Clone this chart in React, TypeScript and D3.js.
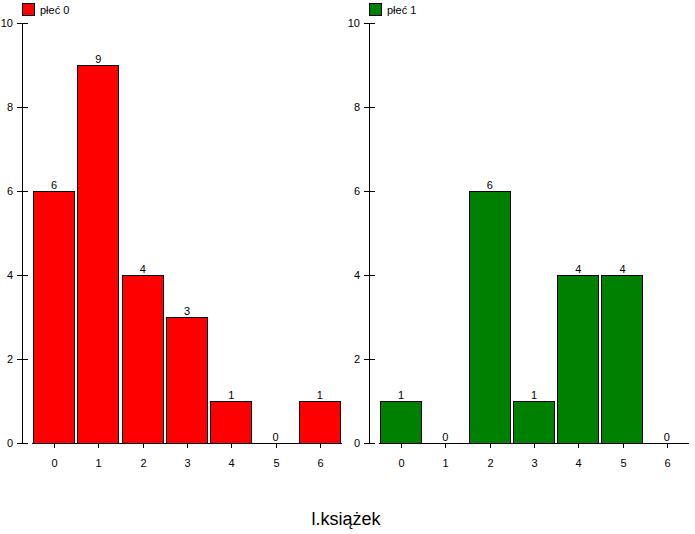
import React from "react";
import * as d3 from "d3";

const categories = ["0", "1", "2", "3", "4", "5", "6"];
const seriesNames = ["płeć 0", "płeć 1"];
const series0 = [6, 9, 4, 3, 1, 0, 1];
const series1 = [1, 0, 6, 1, 4, 4, 0];
const colors = ["#ff0000", "#008000"];
const yTicks = [0, 2, 4, 6, 8, 10];
const xTitle = "l.książek";

const W = 695;
const H = 534;
const font = "'Liberation Sans', Arial, sans-serif";

function Panel({ axisX, x0, x1, values, color, name }: any) {
  const y = d3.scaleLinear().domain([0, 10]).range([443, 23]);
  const x = d3.scaleBand().domain(categories).range([x0, x1]).paddingInner(0).paddingOuter(0);
  const bw = x.bandwidth();
  return (
    <g>
      <rect x={axisX + 0.5} y={3.5} width={12} height={12} fill={color} stroke="#000" strokeWidth={1} />
      <text x={axisX + 18} y={14} fontSize={11} fontFamily={font}>{name}</text>
      <line x1={axisX + 0.5} x2={axisX + 0.5} y1={23} y2={443} stroke="#000" />
      {yTicks.map((t) => (
        <g key={t}>
          <line x1={axisX - 5} x2={axisX + 6} y1={Math.round(y(t)) + 0.5} y2={Math.round(y(t)) + 0.5} stroke="#000" />
          <text x={axisX - 9} y={Math.round(y(t)) + 4} fontSize={11} fontFamily={font} textAnchor="end">{t}</text>
        </g>
      ))}
      {values.map((v: number, i: number) => {
        const bx = (x(categories[i]) as number) + 1;
        const top = y(v);
        return (
          <g key={i}>
            {v > 0 && (
              <rect x={Math.round(bx) + 0.5} y={Math.round(top) + 0.5} width={Math.round(bw - 3)} height={Math.round(y(0) - top)} fill={color} stroke="#000" />
            )}
            <text x={(x(categories[i]) as number) + bw / 2} y={Math.round(top) - 2} fontSize={11} fontFamily={font} textAnchor="middle">{v}</text>
          </g>
        );
      })}
      <line x1={x0} x2={x1} y1={443.5} y2={443.5} stroke="#000" />
      {categories.map((c) => {
        const cx = Math.round((x(c) as number) + bw / 2) + 0.5;
        return (
          <g key={c}>
            <line x1={cx} x2={cx} y1={443} y2={448} stroke="#000" />
            <text x={cx} y={467} fontSize={11} fontFamily={font} textAnchor="middle">{c}</text>
          </g>
        );
      })}
    </g>
  );
}

export default function App() {
  return (
    <svg width={W} height={H} style={{ position: "absolute", left: 0, top: 0, background: "#fff" }}>
      <rect width={W} height={H} fill="#fff" />
      <Panel axisX={22} x0={32} x1={342} values={series0} color={colors[0]} name={seriesNames[0]} />
      <Panel axisX={369} x0={379} x1={689} values={series1} color={colors[1]} name={seriesNames[1]} />
      <text x={346} y={525} fontSize={18} fontFamily={font} textAnchor="middle">{xTitle}</text>
    </svg>
  );
}
